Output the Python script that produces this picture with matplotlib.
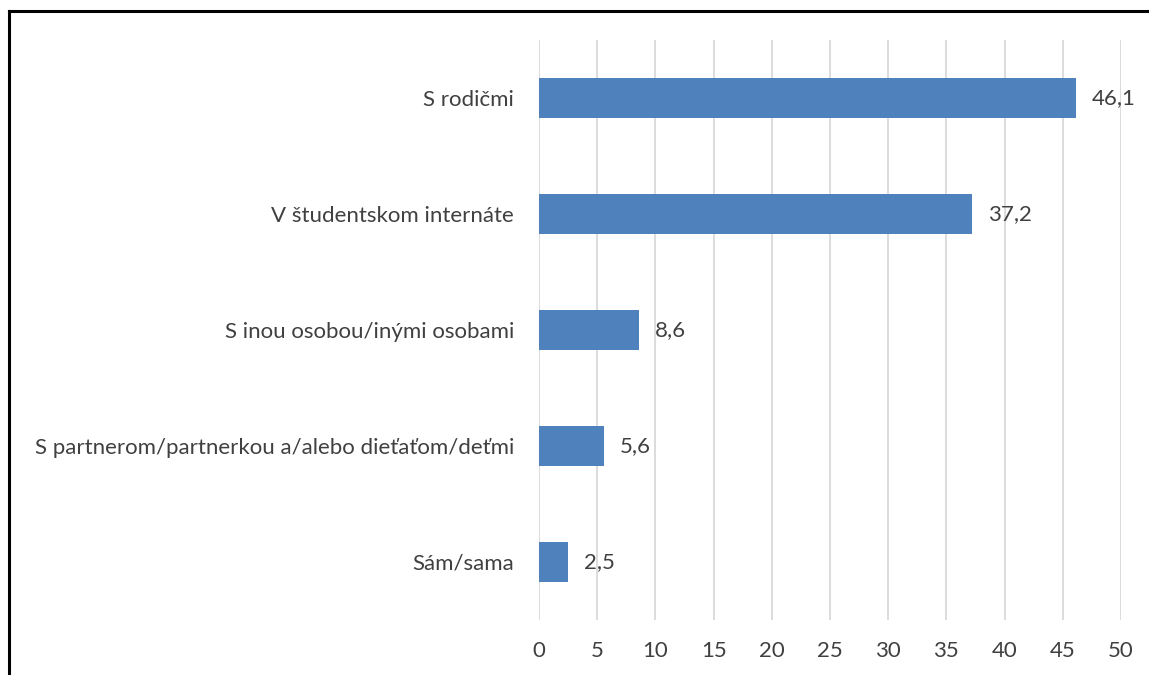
import matplotlib
matplotlib.use("Agg")
import matplotlib.pyplot as plt
from matplotlib.lines import Line2D

# data
categories = ["S rodičmi", "V študentskom internáte", "S inou osobou/inými osobami",
              "S partnerom/partnerkou a/alebo dieťaťom/deťmi", "Sám/sama"]
values = [46.1, 37.2, 8.6, 5.6, 2.5]
xticks = [0, 5, 10, 15, 20, 25, 30, 35, 40, 45, 50]

plt.rcParams['font.family'] = ['Lato', 'DejaVu Sans']
TXT = '#404040'
FS = 16

fig = plt.figure(figsize=(11.49, 6.75), dpi=100)
ax = fig.add_axes([0.4691, 0.0815, 0.5065, 0.8592])

pos = list(range(len(categories)))[::-1]
bars = ax.barh(pos, values, height=0.345, color='#4F81BD', zorder=3)
for b, v in zip(bars, values):
    ax.text(b.get_width() + 1.35, b.get_y() + b.get_height() / 2,
            f"{v:.1f}".replace('.', ','), va='center', ha='left',
            fontsize=FS, color=TXT)

ax.set_xlim(0, 50)
ax.set_ylim(-0.5, len(categories) - 0.5)
ax.set_xticks(xticks)
ax.set_xticklabels([str(t) for t in xticks], fontsize=FS, color=TXT)
ax.set_yticks(pos)
ax.set_yticklabels(categories, fontsize=FS, color=TXT)
ax.tick_params(axis='both', length=0)
ax.tick_params(axis='y', pad=18)
ax.tick_params(axis='x', pad=15)
ax.grid(axis='x', color='#D9D9D9', linewidth=1.3, zorder=0)
for s in ax.spines.values():
    s.set_visible(False)

# frame lines (top and left visible in the crop)
fig.add_artist(Line2D([0.0078, 1.0], [0.9837, 0.9837], color='black', lw=2.2))
fig.add_artist(Line2D([0.0078, 0.0078], [0.0, 0.9837], color='black', lw=2.2))

fig.savefig("out.png", dpi=100)
